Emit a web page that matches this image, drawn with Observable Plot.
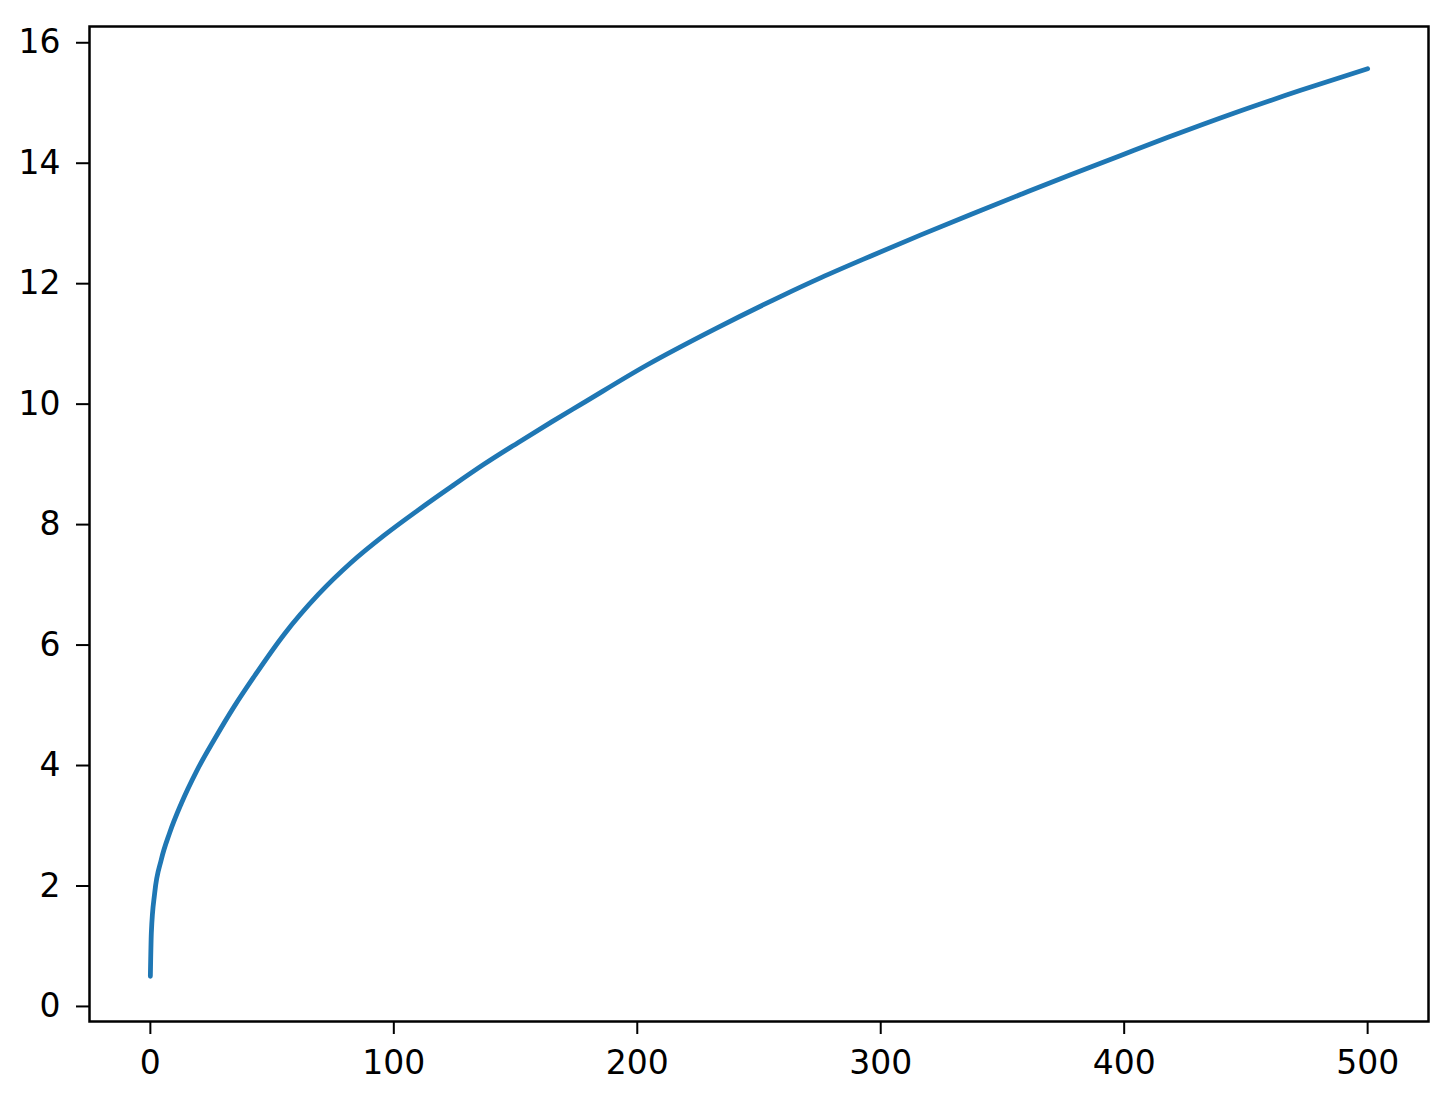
<!DOCTYPE html>
<html>
<head>
<meta charset="utf-8">
<script src="https://cdn.jsdelivr.net/npm/d3@7"></script>
<script src="https://cdn.jsdelivr.net/npm/@observablehq/plot@0.6"></script>
<style>
  html, body { margin: 0; padding: 0; background: #fff; }
  #chart svg { display: block; }
</style>
</head>
<body>
<div id="chart"></div>
<script>
const xValues = [0, 0.4, 1.8, 4.5, 7.9, 12.7, 18.9, 26.4, 34.6, 42.5, 55, 69, 82.5, 96, 110, 124, 137, 151, 165, 177, 204, 232, 259, 275.5, 296, 316.5, 337, 358, 378, 398.6, 418, 445, 472.5, 500];
const yValues = [0.5, 1.22, 1.89, 2.44, 2.88, 3.37, 3.9, 4.44, 4.99, 5.47, 6.18, 6.84, 7.37, 7.82, 8.24, 8.64, 9.0, 9.36, 9.71, 10.0, 10.65, 11.25, 11.79, 12.1, 12.46, 12.81, 13.15, 13.49, 13.81, 14.13, 14.43, 14.83, 15.21, 15.57];
const xTicks = [0, 100, 200, 300, 400, 500];
const yTicks = [0, 2, 4, 6, 8, 10, 12, 14, 16];

const data = xValues.map((x, i) => ({x, y: yValues[i]}));

const chart = Plot.plot({
  width: 1443,
  height: 1098,
  marginLeft: 89,
  marginRight: 15,
  marginTop: 26,
  marginBottom: 77,
  style: {fontFamily: "DejaVu Sans", fontSize: "33px", color: "#000", background: "#fff"},
  x: {domain: [-25, 525]},
  y: {domain: [-0.25, 16.27]},
  marks: [
    Plot.line(data, {x: "x", y: "y", stroke: "#1f77b4", strokeWidth: 4.8, curve: "monotone-x"}),
    Plot.frame({stroke: "#000", strokeWidth: 2.5}),
    Plot.axisX({ticks: xTicks, tickSize: 13, tickPadding: 16, tickFormat: d => String(d), label: null, strokeWidth: 2, fontSize: 33}),
    Plot.axisY({ticks: yTicks, tickSize: 13, tickPadding: 16, tickFormat: d => String(d), label: null, strokeWidth: 2, fontSize: 33})
  ]
});
document.getElementById("chart").appendChild(chart);
</script>
</body>
</html>
